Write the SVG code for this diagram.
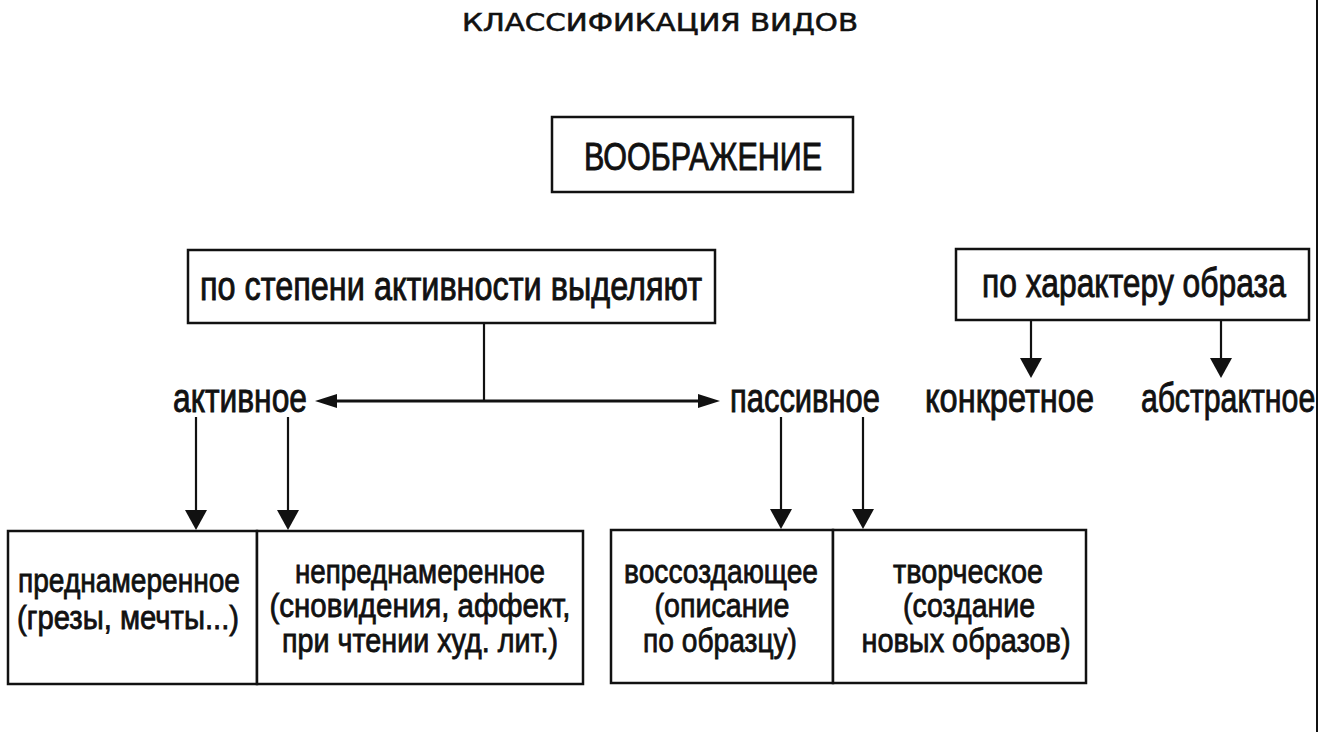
<svg xmlns="http://www.w3.org/2000/svg" width="1320" height="732" viewBox="0 0 1320 732">
<style>
  .bg { fill: #ffffff; }
  .box { fill: #ffffff; stroke: #111; stroke-width: 2.5; }
  .t { font-family: "Liberation Sans", Arial, sans-serif; fill: #111; stroke: #111; stroke-width: 0.9; }
  .big { font-size: 40px; }
  .mid { font-size: 38px; }
  .sm { font-size: 33px; stroke-width: 0.8; }
  .title { font-family: "DejaVu Sans", "Liberation Sans", sans-serif; font-size: 25px; fill: #111; stroke: #111; stroke-width: 0.6; }
  .ln { stroke: #111; stroke-width: 2.2; fill: none; }
  .hl { stroke: #111; stroke-width: 3; fill: none; }
</style>
<defs>
  <marker id="ahd" markerUnits="userSpaceOnUse" markerWidth="20" markerHeight="22" refX="0" refY="11" orient="auto" overflow="visible">
    <path d="M0,0 L20,11 L0,22 Z" fill="#111"/>
  </marker>
  <marker id="ahh" markerUnits="userSpaceOnUse" markerWidth="22" markerHeight="14" refX="0" refY="7" orient="auto-start-reverse" overflow="visible">
    <path d="M0,0 L22,7 L0,14 Z" fill="#111"/>
  </marker>
</defs>
<rect class="bg" x="0" y="0" width="1320" height="732"/>

<text class="title" x="462" y="31" textLength="396" lengthAdjust="spacingAndGlyphs">КЛАССИФИКАЦИЯ ВИДОВ</text>

<g id="connectors">
  <line class="ln" x1="484" y1="323" x2="484" y2="401"/>
  <line class="hl" x1="337" y1="401" x2="698" y2="401" marker-start="url(#ahh)" marker-end="url(#ahh)"/>
  <line class="ln" x1="1031" y1="320" x2="1031" y2="358" marker-end="url(#ahd)"/>
  <line class="ln" x1="1221" y1="320" x2="1221" y2="358" marker-end="url(#ahd)"/>
  <line class="ln" x1="196" y1="417" x2="196" y2="510" marker-end="url(#ahd)"/>
  <line class="ln" x1="288" y1="417" x2="288" y2="510" marker-end="url(#ahd)"/>
  <line class="ln" x1="781" y1="417" x2="781" y2="509" marker-end="url(#ahd)"/>
  <line class="ln" x1="863" y1="417" x2="863" y2="509" marker-end="url(#ahd)"/>
</g>

<g id="imagination">
  <rect class="box" x="552" y="117" width="301" height="75"/>
  <text class="t mid" x="584" y="170" textLength="238" lengthAdjust="spacingAndGlyphs">ВООБРАЖЕНИЕ</text>
</g>

<g id="by-activity">
  <rect class="box" x="188" y="250" width="527" height="73"/>
  <text class="t big" x="200" y="300" textLength="502" lengthAdjust="spacingAndGlyphs">по степени активности выделяют</text>
</g>

<g id="by-image">
  <rect class="box" x="956" y="249" width="353" height="71"/>
  <text class="t big" transform="translate(982,297) scale(0.72,1)" x="0" y="0" textLength="422" lengthAdjust="spacingAndGlyphs">по характеру образа</text>
</g>

<g id="active">
  <text class="t big" x="173" y="412" textLength="134" lengthAdjust="spacingAndGlyphs">активное</text>
</g>
<g id="passive">
  <text class="t big" x="730" y="412" textLength="150" lengthAdjust="spacingAndGlyphs">пассивное</text>
</g>
<g id="concrete">
  <text class="t big" x="925" y="412" textLength="169" lengthAdjust="spacingAndGlyphs">конкретное</text>
</g>
<g id="abstract">
  <text class="t big" transform="translate(1141,412) scale(0.72,1)" x="0" y="0" textLength="242" lengthAdjust="spacingAndGlyphs">абстрактное</text>
</g>

<g id="intentional">
  <rect class="box" x="8" y="531" width="249" height="153"/>
  <text class="t sm" x="129" y="592" text-anchor="middle" textLength="222" lengthAdjust="spacingAndGlyphs">преднамеренное</text>
  <text class="t sm" x="128" y="629" text-anchor="middle" textLength="222" lengthAdjust="spacingAndGlyphs">(грезы, мечты...)</text>
</g>

<g id="unintentional">
  <rect class="box" x="257" y="531" width="326" height="153"/>
  <text class="t sm" x="420" y="583" text-anchor="middle" textLength="250" lengthAdjust="spacingAndGlyphs">непреднамеренное</text>
  <text class="t sm" x="420" y="617" text-anchor="middle" textLength="301" lengthAdjust="spacingAndGlyphs">(сновидения, аффект,</text>
  <text class="t sm" x="420" y="652" text-anchor="middle" textLength="276" lengthAdjust="spacingAndGlyphs">при чтении худ. лит.)</text>
</g>

<g id="recreative">
  <rect class="box" x="611" y="530" width="222" height="153"/>
  <text class="t sm" x="721" y="583" text-anchor="middle" textLength="194" lengthAdjust="spacingAndGlyphs">воссоздающее</text>
  <text class="t sm" x="722" y="617" text-anchor="middle" textLength="135" lengthAdjust="spacingAndGlyphs">(описание</text>
  <text class="t sm" x="720" y="652" text-anchor="middle" textLength="154" lengthAdjust="spacingAndGlyphs">по образцу)</text>
</g>

<g id="creative">
  <rect class="box" x="833" y="530" width="253" height="153"/>
  <text class="t sm" x="968" y="583" text-anchor="middle" textLength="150" lengthAdjust="spacingAndGlyphs">творческое</text>
  <text class="t sm" x="969" y="617" text-anchor="middle" textLength="132" lengthAdjust="spacingAndGlyphs">(создание</text>
  <text class="t sm" x="966" y="652" text-anchor="middle" textLength="209" lengthAdjust="spacingAndGlyphs">новых образов)</text>
</g>

<line x1="1317" y1="0" x2="1317" y2="732" stroke="#111" stroke-width="2"/>
</svg>
